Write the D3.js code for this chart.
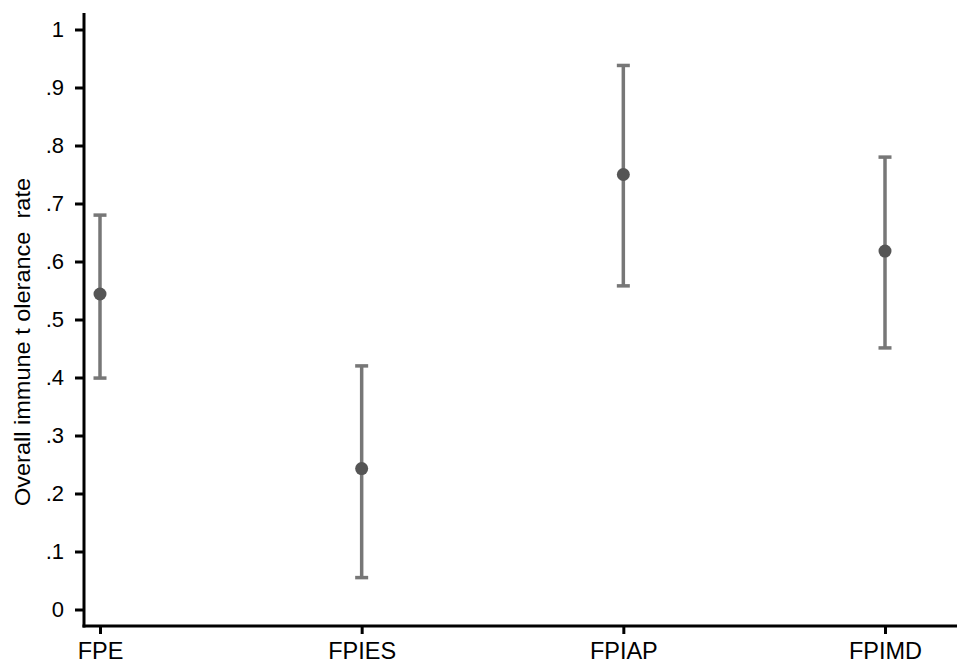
<!DOCTYPE html>
<html>
<head>
<meta charset="utf-8">
<script src="https://cdn.jsdelivr.net/npm/d3@7"></script>
<style>
  body { margin: 0; background: #fff; }
  svg { display: block; font-family: "Liberation Sans", Arial, sans-serif; }
</style>
</head>
<body>
<div id="chart"></div>
<script>
// data
const groups = ['FPE', 'FPIES', 'FPIAP', 'FPIMD'];
const estimate = [0.544, 0.243, 0.750, 0.618];
const lower = [0.399, 0.055, 0.558, 0.451];
const upper = [0.680, 0.420, 0.938, 0.780];
const yTicks = [0, 0.1, 0.2, 0.3, 0.4, 0.5, 0.6, 0.7, 0.8, 0.9, 1];
const yTitle = 'Overall immune t olerance  rate';

const width = 957;
const height = 664;

const svg = d3
  .select('#chart')
  .append('svg')
  .attr('width', width)
  .attr('height', height);

const xScale = d3.scalePoint().domain(groups).range([100, 885]);
const yScale = d3.scaleLinear().domain([0, 1]).range([609.5, 29.5]);

const axisX = 84;   // position of the y axis line
const axisY = 626;  // position of the x axis line

// y axis
const yAxis = d3
  .axisLeft(yScale)
  .tickValues(yTicks)
  .tickSize(9)
  .tickPadding(11)
  .tickFormat((d) => (d === 0 ? '0' : d === 1 ? '1' : d3.format('.1f')(d).replace(/^0/, '')));

const yAxisGroup = svg
  .append('g')
  .attr('transform', 'translate(' + axisX + ',0)')
  .call(yAxis);
yAxisGroup.select('.domain').remove();
yAxisGroup.selectAll('.tick line').attr('stroke', '#000').attr('stroke-width', 3);
yAxisGroup
  .selectAll('.tick text')
  .attr('fill', '#000')
  .style('font-size', '22px')
  .style('font-family', '"Liberation Sans", Arial, sans-serif');

// x axis
const xAxis = d3.axisBottom(xScale).tickSize(8).tickPadding(8);
const xAxisGroup = svg
  .append('g')
  .attr('transform', 'translate(0,' + axisY + ')')
  .call(xAxis);
xAxisGroup.select('.domain').remove();
xAxisGroup.selectAll('.tick line').attr('stroke', '#000').attr('stroke-width', 3);
xAxisGroup
  .selectAll('.tick text')
  .attr('fill', '#000')
  .style('font-size', '23.5px')
  .style('font-family', '"Liberation Sans", Arial, sans-serif');

// axis lines
svg
  .append('line')
  .attr('x1', axisX)
  .attr('x2', axisX)
  .attr('y1', 13)
  .attr('y2', axisY + 1.5)
  .attr('stroke', '#000')
  .attr('stroke-width', 3);
svg
  .append('line')
  .attr('x1', axisX - 1.5)
  .attr('x2', width)
  .attr('y1', axisY)
  .attr('y2', axisY)
  .attr('stroke', '#000')
  .attr('stroke-width', 3);

// y title
svg
  .append('text')
  .attr('transform', 'translate(30,342) rotate(-90)')
  .attr('text-anchor', 'middle')
  .style('font-size', '22px')
  .style('white-space', 'pre')
  .attr('textLength', 328)
  .attr('lengthAdjust', 'spacingAndGlyphs')
  .attr('fill', '#000')
  .text(yTitle);

// error bars
const rows = groups.map((g, i) => ({ g, est: estimate[i], lo: lower[i], hi: upper[i] }));
const bars = svg.append('g').attr('stroke', '#777').attr('stroke-width', 3.5);

bars
  .selectAll('.ci')
  .data(rows)
  .enter()
  .append('line')
  .attr('x1', (d) => xScale(d.g))
  .attr('x2', (d) => xScale(d.g))
  .attr('y1', (d) => yScale(d.lo))
  .attr('y2', (d) => yScale(d.hi));

['lo', 'hi'].forEach((k) => {
  bars
    .selectAll('.cap-' + k)
    .data(rows)
    .enter()
    .append('line')
    .attr('x1', (d) => xScale(d.g) - 6.5)
    .attr('x2', (d) => xScale(d.g) + 6.5)
    .attr('y1', (d) => yScale(d[k]))
    .attr('y2', (d) => yScale(d[k]));
});

// point estimates
svg
  .append('g')
  .selectAll('circle')
  .data(rows)
  .enter()
  .append('circle')
  .attr('cx', (d) => xScale(d.g))
  .attr('cy', (d) => yScale(d.est))
  .attr('r', 6.5)
  .attr('fill', '#555');
</script>
</body>
</html>
